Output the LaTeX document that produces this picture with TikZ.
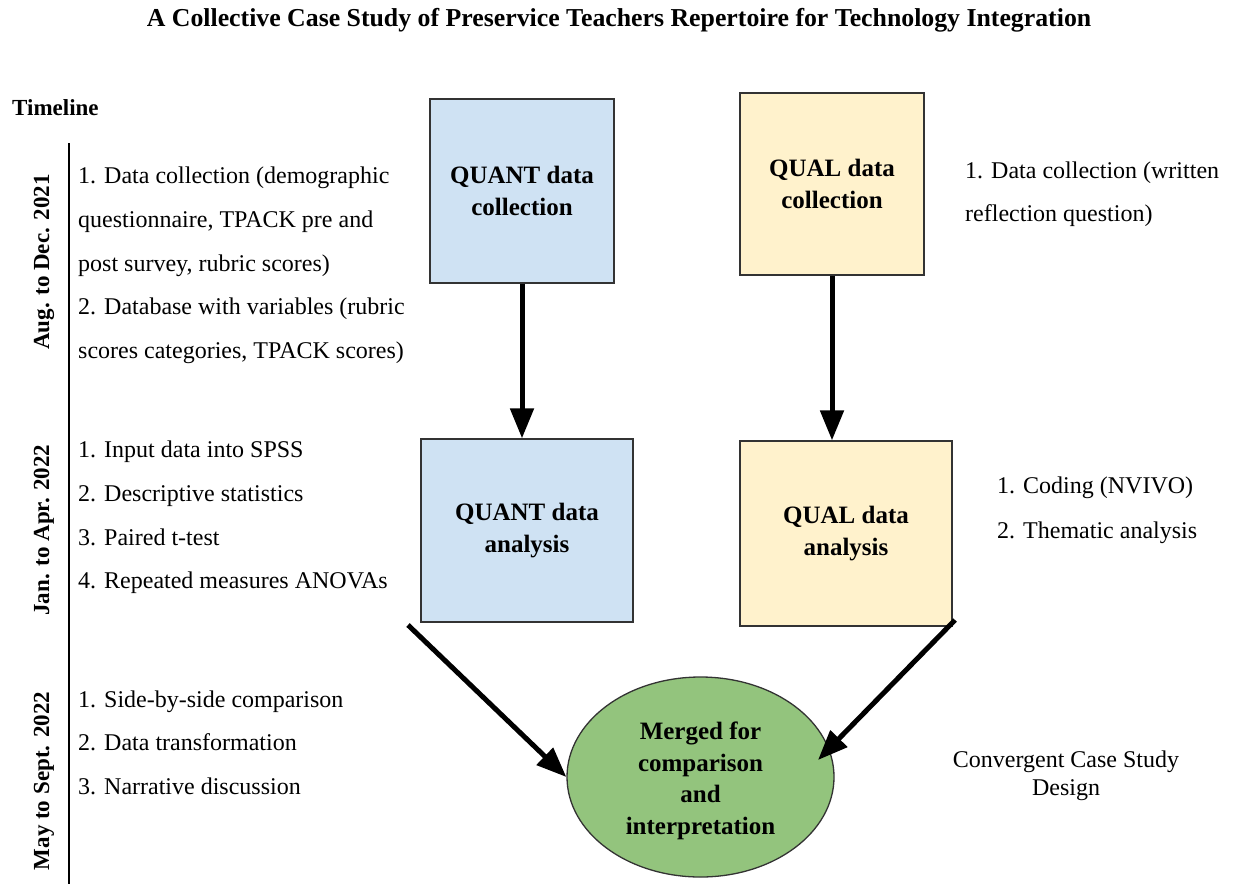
\documentclass[tikz,border=0pt]{standalone}
\usepackage{fontspec}
\setmainfont{Liberation Serif}
\usetikzlibrary{arrows.meta,shapes.geometric}
\definecolor{qblue}{HTML}{CFE2F3}
\definecolor{qyel}{HTML}{FFF2CC}
\definecolor{qgreen}{HTML}{93C47D}
\definecolor{edgec}{HTML}{333333}
\begin{document}
\begin{tikzpicture}[x=1pt,y=-1pt,
  txt/.style={anchor=base west, inner sep=0pt, font=\fontsize{24}{28}\selectfont},
  box/.style={draw=edgec, line width=1.3pt, align=center, inner sep=0pt,
    font=\fontsize{25}{32}\selectfont\bfseries},
  arr/.style={line width=5pt, -{Triangle[length=30pt,width=23pt]}},
  period/.style={rotate=90, inner sep=0pt, font=\fontsize{23}{28}\selectfont\bfseries}]
\useasboundingbox[fill=white] (0,0) rectangle (1236,884);

% title
\node[anchor=base, inner sep=0pt, font=\fontsize{25.8}{30}\selectfont\bfseries] (title) at (619,26)
  {A Collective Case Study of Preservice Teachers Repertoire for Technology Integration};
\node[anchor=base west, inner sep=0pt, font=\fontsize{23}{28}\selectfont\bfseries] (timeline) at (12,115) {Timeline};

% timeline axis
\coordinate (ax1) at (68.5,143);
\coordinate (ax2) at (68.5,884);
\draw[line width=2pt] (ax1) -- (ax2);

\node[period] (p1) at (44,262) {Aug. to Dec. 2021};
\node[period] (p2) at (44,530) {Jan. to Apr. 2022};
\node[period] (p3) at (44,781) {May to Sept. 2022};

% left texts
\node[txt] (a1) at (78,183) {1. Data collection (demographic};
\node[txt] (a2) at (78,227) {questionnaire, TPACK pre and};
\node[txt] (a3) at (78,271) {post survey, rubric scores)};
\node[txt] (a4) at (78,314) {2. Database with variables (rubric};
\node[txt] (a5) at (78,358) {scores categories, TPACK scores)};

\node[txt] (b1) at (78,457) {1. Input data into SPSS};
\node[txt] (b2) at (78,501) {2. Descriptive statistics};
\node[txt] (b3) at (78,545) {3. Paired t-test};
\node[txt] (b4) at (78,588) {4. Repeated measures ANOVAs};

\node[txt] (c1) at (78,707) {1. Side-by-side comparison};
\node[txt] (c2) at (78,750) {2. Data transformation};
\node[txt] (c3) at (78,794) {3. Narrative discussion};

% right texts
\node[txt] (r1) at (965,178) {1. Data collection (written};
\node[txt] (r2) at (965,221) {reflection question)};
\node[txt] (s1) at (997,493) {1. Coding (NVIVO)};
\node[txt] (s2) at (997,538) {2. Thematic analysis};
\node[anchor=base, inner sep=0pt, font=\fontsize{24}{28}\selectfont] (conv) at (1066,767) {Convergent Case Study};
\node[anchor=base, inner sep=0pt, font=\fontsize{24}{28}\selectfont] (conv2) at (1066,795) {Design};

% boxes
\node[box, fill=qblue, minimum width=184pt, minimum height=184pt] (qc) at (522,191) {QUANT data\\collection};
\node[box, fill=qyel, minimum width=184pt, minimum height=182pt] (lc) at (832,184) {QUAL data\\collection};
\node[box, fill=qblue, minimum width=212pt, minimum height=183pt] (qa) at (527,530.5) {QUANT data\\analysis};
\node[box, fill=qyel, minimum width=212pt, minimum height=185pt] (la) at (846,533.5) {QUAL data\\analysis};
\node[ellipse, draw=edgec, line width=1.3pt, fill=qgreen, inner sep=0pt,
  minimum width=267pt, minimum height=200pt] (m) at (700.5,777) {};
\node[align=center, inner sep=0pt, font=\fontsize{25}{31.5}\selectfont\bfseries]
  (mt) at ([yshift=-4pt]m.center) {Merged for\\comparison\\and\\interpretation};

% arrows
\draw[arr] (qc.south) -- (qc.south |- qa.north);
\draw[arr] (lc.south) -- (lc.south |- la.north);
\coordinate (d1) at (408,625);
\coordinate (d2) at (955,620);
\coordinate (e2) at (818,760);
\draw[arr] (d1) -- (m.west);
\draw[arr] (d2) -- (e2);
\end{tikzpicture}
\end{document}
